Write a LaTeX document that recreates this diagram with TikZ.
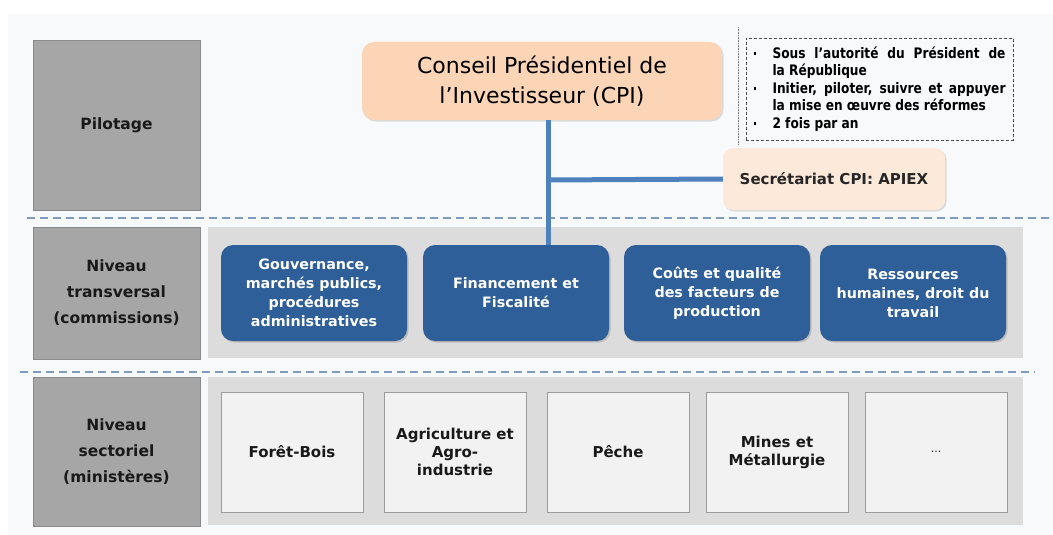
\documentclass[tikz,border=0pt]{standalone}
\usepackage{fontspec}
\setmainfont{DejaVu Sans}
\newfontfamily\notefont{DejaVu Sans}[FakeStretch=0.84]
\usetikzlibrary{shadows}
\definecolor{bgc}{HTML}{F8F9FA}
\definecolor{lblfill}{HTML}{A6A6A6}
\definecolor{lbldraw}{HTML}{8A8A8A}
\definecolor{panelc}{HTML}{DCDCDC}
\definecolor{secfill}{HTML}{F2F2F2}
\definecolor{secdraw}{HTML}{9C9C9C}
\definecolor{bluebox}{HTML}{2F5F98}
\definecolor{conn}{HTML}{4F81BD}
\definecolor{cpifill}{HTML}{FBD5B5}
\definecolor{secrfill}{HTML}{FDE9D9}
\definecolor{dashc}{HTML}{7F9CC0}
\tikzset{
  lbl/.style={draw=lbldraw, line width=1pt, fill=lblfill, minimum width=167pt, align=center,
    font=\bfseries\fontsize{15.5}{26}\selectfont, text=black!90},
  panel/.style={fill=panelc, minimum width=815pt},
  combox/.style={fill=bluebox, rounded corners=12pt, minimum width=186pt, minimum height=96pt,
    align=center, text=white, font=\bfseries\fontsize{14.3}{19}\selectfont,
    drop shadow={opacity=0.35, shadow xshift=1.5pt, shadow yshift=-1.5pt}},
  secbox/.style={fill=secfill, draw=secdraw, line width=1pt, minimum width=142pt, minimum height=120pt,
    align=center, font=\bfseries\fontsize{15}{18}\selectfont, text=black!90},
  sepline/.style={dashc, line width=2pt, dash pattern=on 8pt off 5pt},
  connline/.style={conn, line width=5pt}
}
\newcommand{\notebullet}{\hangindent=19pt\hangafter=1\noindent\makebox[19pt][l]{\raisebox{3.5pt}{\rule{2.6pt}{2.6pt}}}}
\begin{document}
\begin{tikzpicture}[x=1pt,y=-1pt]
\useasboundingbox (0,0) rectangle (1053,535);
\fill[white] (0,0) rectangle (1053,535);
\fill[bgc] (8,14) rectangle (1053,535);
% separators
\draw[sepline] (27,218) -- (1053,218);
\draw[sepline] (20,372) -- (1035,372);
% left labels
\node[lbl, minimum height=169pt] (pil) at (116.5,125.5) {Pilotage};
\node[lbl, minimum height=132pt] (trans) at (116.5,293) {Niveau\\transversal\\(commissions)};
\node[lbl, minimum height=149pt] (sect) at (116.5,451.5) {Niveau\\sectoriel\\(ministères)};
% panels
\node[panel, minimum height=131pt] (p2) at (615.5,292.5) {};
\node[panel, minimum height=148pt] (p3) at (615.5,451) {};
% commissions
\node[combox] (gouv) at (314,293) {Gouvernance,\\marchés publics,\\procédures\\administratives};
\node[combox] (fin) at (516,293) {Financement et\\Fiscalité};
\node[combox] (couts) at (717,293) {Coûts et qualité\\des facteurs de\\production};
\node[combox] (rh) at (913,293) {Ressources\\humaines, droit du\\travail};
% sectors
\node[secbox] (foret) at (292,452) {Forêt-Bois};
\node[secbox] (agri) at (455,452) {Agriculture et\\Agro-\\industrie};
\node[secbox] (peche) at (618,452) {Pêche};
\node[secbox] (mines) at (777,452) {Mines et\\Métallurgie};
\node[secbox] (etc) at (936,452) {\fontsize{11}{12}\selectfont\mdseries ...};
% CPI
\node[fill=cpifill, rounded corners=12pt, minimum width=360pt, minimum height=78pt, align=center,
  font=\fontsize{22}{30}\selectfont, text=black,
  drop shadow={opacity=0.25, shadow xshift=1.5pt, shadow yshift=-1.5pt}] (cpi) at (542,81)
  {Conseil Présidentiel de\\l’Investisseur (CPI)};
% Secretariat
\node[fill=secrfill, rounded corners=10pt, minimum width=222pt, minimum height=62pt,
  font=\bfseries\fontsize{15}{18}\selectfont, text=black!85,
  drop shadow={opacity=0.25, shadow xshift=1.5pt, shadow yshift=-1.5pt}] (secr) at (834,179)
  {Secrétariat CPI: APIEX};
% connectors
\coordinate (tr) at (548,180);
\draw[connline] (cpi.south -| tr) -- (fin.north -| tr);
\draw[connline] (tr) -- (secr.west);
% note
\draw[gray, line width=0.6pt, densely dotted] (738,27) -- (738,145);
\node[draw=black!70, densely dashed, line width=0.6pt, minimum width=267pt, minimum height=102pt,
  inner sep=4pt, text width=252pt, align=justify, font=\notefont\bfseries\fontsize{14.5}{17.5}\selectfont, text=black] (note) at (879.5,89)
  {\notebullet Sous l’autorité du Président de\linebreak la République\par
   \notebullet Initier, piloter, suivre et appuyer\linebreak la mise en œuvre des réformes\par
   \notebullet 2 fois par an\par};
\end{tikzpicture}
\end{document}
